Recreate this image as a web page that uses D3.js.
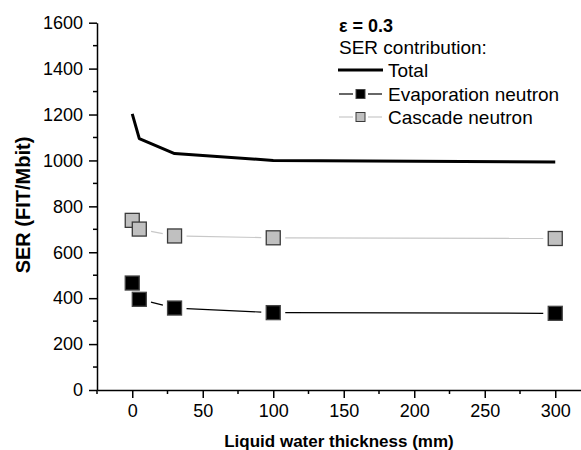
<!DOCTYPE html>
<html>
<head>
<meta charset="utf-8">
<script src="https://cdn.jsdelivr.net/npm/d3@7"></script>
<style>
  html, body { margin: 0; padding: 0; background: #fff; }
  svg { display: block; }
  svg text { font-family: "Liberation Sans", Arial, sans-serif; fill: #000; }
</style>
</head>
<body>
<svg id="chart" width="581" height="450"></svg>
<script>
const thickness = [0, 5, 30, 100, 300];
const totalSer = [1203, 1095, 1030, 1000, 993];
const evapSer = [466, 395, 357, 337, 334];
const cascadeSer = [739, 701, 671, 663, 660];
const xTicks = [0, 50, 100, 150, 200, 250, 300];
const yTicks = [0, 200, 400, 600, 800, 1000, 1200, 1400, 1600];

(function () {
  const svg = d3.select('#chart');
  const left = 97, bottom = 390, top = 22.7;

  const x = d3.scaleLinear().domain([-25, 325]).range([left, left + 350 * 1.41]);
  const y = d3.scaleLinear().domain([0, 1600]).range([bottom, top]);

  // axes
  const xAxis = d3.axisBottom(x).tickValues(xTicks).tickFormat(d3.format('d'))
    .tickSize(8).tickSizeOuter(0).tickPadding(6);
  const yAxis = d3.axisLeft(y).tickValues(yTicks).tickFormat(d3.format('d'))
    .tickSize(8).tickSizeOuter(0).tickPadding(6);

  const gx = svg.append('g').attr('transform', `translate(0,${bottom})`).call(xAxis);
  const gy = svg.append('g').attr('transform', `translate(${left},0)`).call(yAxis);

  [gx, gy].forEach(g => {
    g.attr('font-family', null).attr('font-size', null);
    g.select('.domain').attr('stroke', '#000').attr('stroke-width', 1.5);
    g.selectAll('.tick line').attr('stroke', '#000').attr('stroke-width', 1.5);
    g.selectAll('.tick text').attr('font-size', 18);
  });

  // minor ticks
  const xMinor = d3.range(-25, 326, 50);
  svg.append('g').selectAll('line').data(xMinor).join('line')
    .attr('x1', d => x(d)).attr('x2', d => x(d))
    .attr('y1', bottom).attr('y2', bottom + 4)
    .attr('stroke', '#000').attr('stroke-width', 1.5);
  const yMinor = d3.range(100, 1600, 200);
  svg.append('g').selectAll('line').data(yMinor).join('line')
    .attr('x1', left - 4).attr('x2', left)
    .attr('y1', d => y(d)).attr('y2', d => y(d))
    .attr('stroke', '#000').attr('stroke-width', 1.5);

  // axis titles
  svg.append('text').attr('x', 339).attr('y', 447).attr('text-anchor', 'middle')
    .attr('font-size', 17).attr('font-weight', 'bold').text('Liquid water thickness (mm)');
  svg.append('text').attr('transform', 'translate(30,205) rotate(-90)').attr('text-anchor', 'middle')
    .attr('font-size', 20).attr('font-weight', 'bold').text('SER (FIT/Mbit)');

  // total line
  const line = d3.line().x(d => x(d[0])).y(d => y(d[1]));
  svg.append('path').datum(thickness.map((t, i) => [t, totalSer[i]]))
    .attr('d', line).attr('fill', 'none').attr('stroke', '#000')
    .attr('stroke-width', 3).attr('stroke-linejoin', 'round');

  // gapped connector lines + square markers
  function series(vals, lineColor, fill, stroke) {
    const pts = thickness.map((t, i) => [x(t), y(vals[i])]);
    const gap = 12;
    const segs = [];
    for (let i = 0; i < pts.length - 1; i++) {
      const [x1, y1] = pts[i], [x2, y2] = pts[i + 1];
      const len = Math.hypot(x2 - x1, y2 - y1);
      if (len <= 2 * gap) continue;
      const ux = (x2 - x1) / len, uy = (y2 - y1) / len;
      segs.push([x1 + ux * gap, y1 + uy * gap, x2 - ux * gap, y2 - uy * gap]);
    }
    svg.append('g').selectAll('line').data(segs).join('line')
      .attr('x1', d => d[0]).attr('y1', d => d[1]).attr('x2', d => d[2]).attr('y2', d => d[3])
      .attr('stroke', lineColor).attr('stroke-width', 1.2);
    const s = 14;
    svg.append('g').selectAll('rect').data(pts).join('rect')
      .attr('x', d => d[0] - s / 2).attr('y', d => d[1] - s / 2)
      .attr('width', s).attr('height', s)
      .attr('fill', fill).attr('stroke', stroke).attr('stroke-width', 1.3);
  }
  series(cascadeSer, '#c8c8c8', '#c0c0c0', '#3a3a3a');
  series(evapSer, '#000', '#000', '#444');

  // legend
  const lg = svg.append('g');
  lg.append('text').attr('x', 339).attr('y', 32).attr('font-size', 18).attr('font-weight', 'bold').text('ε = 0.3');
  lg.append('text').attr('x', 339).attr('y', 54).attr('font-size', 19).text('SER contribution:');
  lg.append('line').attr('x1', 338).attr('x2', 383).attr('y1', 70).attr('y2', 70)
    .attr('stroke', '#000').attr('stroke-width', 3);
  lg.append('text').attr('x', 388).attr('y', 77).attr('font-size', 19).text('Total');

  const rows = [
    { y: 94, label: 'Evaporation neutron', line: '#000', fill: '#000', stroke: '#444' },
    { y: 117, label: 'Cascade neutron', line: '#c8c8c8', fill: '#c0c0c0', stroke: '#3a3a3a' }
  ];
  rows.forEach(r => {
    lg.append('line').attr('x1', 339).attr('x2', 353).attr('y1', r.y).attr('y2', r.y)
      .attr('stroke', r.line).attr('stroke-width', 1.2);
    lg.append('line').attr('x1', 368).attr('x2', 382).attr('y1', r.y).attr('y2', r.y)
      .attr('stroke', r.line).attr('stroke-width', 1.2);
    lg.append('rect').attr('x', 356).attr('y', r.y - 4.5).attr('width', 9).attr('height', 9)
      .attr('fill', r.fill).attr('stroke', r.stroke).attr('stroke-width', 1);
    lg.append('text').attr('x', 388).attr('y', r.y + 7).attr('font-size', 19).text(r.label);
  });
})();
</script>
</body>
</html>
